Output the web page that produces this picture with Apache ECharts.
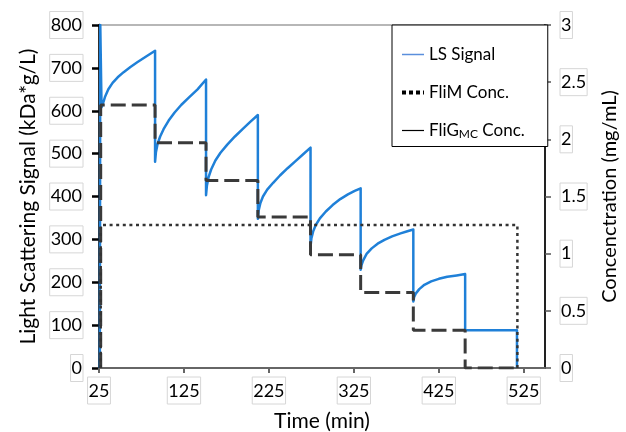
<!DOCTYPE html>
<html>
<head>
<meta charset="utf-8">
<script src="https://cdn.jsdelivr.net/npm/echarts@6/dist/echarts.min.js"></script>
<style>
  html, body { margin: 0; padding: 0; background: #fff; }
  #chart { width: 626px; height: 432px; }
</style>
</head>
<body>
<div id="chart"></div>
<script>
// LS signal (left axis, kDa*g/L)
var lsTime = [26, 26.5, 28, 29.5, 32, 36, 41, 47, 54, 62, 70, 80, 91,
  91, 92, 94, 97, 101, 107, 114, 122, 131, 141, 151,
  151, 152, 154, 157, 162, 168, 176, 185, 194, 203, 212,
  212, 213, 215, 218, 223, 230, 238, 247, 256, 265, 274,
  274, 275, 277, 280, 285, 292, 300, 309, 318, 326, 333,
  333, 334, 336, 340, 346, 353, 361, 370, 380, 388, 395,
  395, 396, 398, 402, 408, 416, 425, 435, 446, 456,
  456, 517, 517];
var lsValue = [0, 800, 608, 616, 632, 650, 665, 678, 690, 702, 713, 726, 740,
  481, 503, 523, 540, 557, 577, 596, 614, 631, 650, 673,
  403, 425, 445, 463, 484, 502, 521, 540, 557, 574, 590,
  348, 368, 385, 400, 416, 432, 449, 466, 482, 498, 514,
  283, 302, 318, 333, 349, 365, 380, 394, 405, 413, 419,
  229, 240, 251, 266, 279, 290, 299, 307, 314, 319, 323,
  155, 166, 174, 184, 194, 202, 208, 213, 216, 219,
  88, 88, 0];

// FliM concentration steps (right axis, mg/mL)
var stepTimes = [27, 91, 151, 212, 274, 333, 395, 456, 517];
var fliMLevels = [2.30, 1.97, 1.64, 1.32, 0.99, 0.66, 0.33, 0];

// FliG_MC concentration (right axis)
var fliGTime = [27, 27, 517.5, 517.5];
var fliGValue = [0, 1.25, 1.25, 0];

var xTicks = [25, 125, 225, 325, 425, 525];

var lsData = lsTime.map(function (t, i) { return [t, lsValue[i]]; });
var fliMData = [[stepTimes[0], 0]];
fliMLevels.forEach(function (v, i) { fliMData.push([stepTimes[i], v]); });
fliMData.push([stepTimes[stepTimes.length - 1], 0]);
var fliGData = fliGTime.map(function (t, i) { return [t, fliGValue[i]]; });

var font = 'Lato';
var boxLabel = {
  fontFamily: font, fontSize: 18, color: '#000',
  borderColor: '#d6d6d6', borderWidth: 1, padding: [5, 1, 4, 1]
};
var hideDot = { opacity: 0 };

var chart = echarts.init(document.getElementById('chart'));
chart.setOption({
  animation: false,
  backgroundColor: '#fff',
  grid: {
    left: 99, right: 81, top: 25, bottom: 64, outerBoundsMode: 'none',
    show: true, borderColor: '#a0a0a0', borderWidth: 1.5
  },
  legend: {
    orient: 'vertical', left: 392, top: 25,
    padding: [21, 23, 6, 8], itemGap: 21, itemWidth: 22, itemHeight: 14,
    borderColor: '#000', borderWidth: 1, backgroundColor: '#fff',
    textStyle: {
      fontFamily: font, fontSize: 17, color: '#000',
      rich: { sub: { fontFamily: font, fontSize: 12, padding: [8, 0, 0, 0] } }
    },
    formatter: function (name) {
      return name === 'FliGMC Conc.' ? 'FliG{sub|MC} Conc.' : name;
    },
    data: [
      { name: 'LS Signal', itemStyle: hideDot, lineStyle: { color: '#5a8fdc', width: 1.5 } },
      { name: 'FliM Conc.', itemStyle: hideDot, lineStyle: { color: '#000', width: 4, type: [4, 3] } },
      { name: 'FliGMC Conc.', itemStyle: hideDot, lineStyle: { color: '#000', width: 1.2, type: 'solid' } }
    ]
  },
  xAxis: {
    type: 'value', min: 25, max: 550,
    name: 'Time (min)', nameLocation: 'middle', nameGap: 43,
    nameTextStyle: { fontFamily: font, fontSize: 21, color: '#000' },
    axisLine: { lineStyle: { color: '#666', width: 2 } },
    axisTick: { customValues: xTicks, length: 5, lineStyle: { color: '#666', width: 2 } },
    axisLabel: Object.assign({ customValues: xTicks, margin: 9 }, boxLabel),
    splitLine: { show: false }
  },
  yAxis: [{
    type: 'value', min: 0, max: 800, interval: 100, position: 'left',
    name: 'Light Scattering Signal (kDa*g/L)', nameLocation: 'middle', nameRotate: 90, nameGap: 59,
    nameTextStyle: { fontFamily: font, fontSize: 21, color: '#000' },
    axisLine: { show: true, lineStyle: { color: '#000', width: 2.5 } },
    axisTick: { length: 7, lineStyle: { color: '#000', width: 2.5 } },
    axisLabel: Object.assign({ margin: 16 }, boxLabel),
    splitLine: { show: false }
  }, {
    type: 'value', min: 0, max: 3, interval: 0.5, position: 'right',
    name: 'Concenctration (mg/mL)', nameLocation: 'middle', nameRotate: 90, nameGap: 55,
    nameTextStyle: { fontFamily: font, fontSize: 20, color: '#000' },
    axisLine: { show: true, lineStyle: { color: '#222', width: 2 } },
    axisTick: { length: 6, lineStyle: { color: '#555', width: 1.5 } },
    axisLabel: Object.assign({ margin: 15 }, boxLabel),
    splitLine: { show: false }
  }],
  series: [{
    name: 'LS Signal', type: 'line', yAxisIndex: 0, data: lsData,
    showSymbol: false, symbol: 'none',
    lineStyle: { color: '#1f80d8', width: 2.5, join: 'round' }, itemStyle: { color: '#1f80d8' }
  }, {
    name: 'FliM Conc.', type: 'line', yAxisIndex: 1, data: fliMData, step: 'end',
    showSymbol: false, symbol: 'none',
    lineStyle: { color: '#3a3a3a', width: 3, type: [15, 6] }, itemStyle: { color: '#3a3a3a' }
  }, {
    name: 'FliGMC Conc.', type: 'line', yAxisIndex: 1, data: fliGData,
    showSymbol: false, symbol: 'none',
    lineStyle: { color: '#333', width: 2.5, type: [3, 3.6] }, itemStyle: { color: '#333' }
  }]
});
</script>
</body>
</html>
